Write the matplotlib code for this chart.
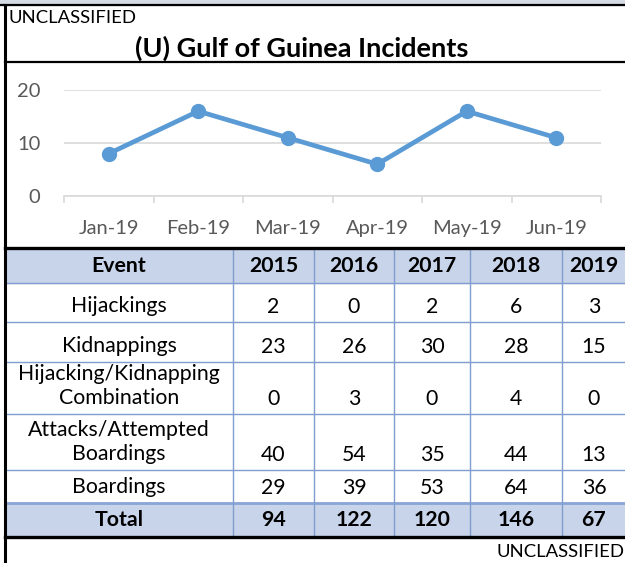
import matplotlib.pyplot as plt
from matplotlib.patches import Rectangle

plt.rcParams['font.family'] = ['Lato', 'DejaVu Sans']

# chart data
months = ["Jan-19", "Feb-19", "Mar-19", "Apr-19", "May-19", "Jun-19"]
monthly_incidents = [8, 16, 11, 6, 16, 11]

# table data
years = ["2015", "2016", "2017", "2018", "2019"]
events = ["Hijackings", "Kidnappings", "Hijacking/Kidnapping\nCombination",
          "Attacks/Attempted\nBoardings", "Boardings"]
hijackings = [2, 0, 2, 6, 3]
kidnappings = [23, 26, 30, 28, 15]
combination = [0, 3, 0, 4, 0]
attacks = [40, 54, 35, 44, 13]
boardings = [29, 39, 53, 64, 36]
totals = [94, 122, 120, 146, 67]

W, H = 625, 563
fig = plt.figure(figsize=(W / 100, H / 100), dpi=100, facecolor="white")

# page layer in pixel coordinates
base = fig.add_axes([0, 0, 1, 1])
base.set_xlim(0, W)
base.set_ylim(H, 0)
base.axis("off")

base.add_patch(Rectangle((0, 0), W, 5, color="#d5dbe4", zorder=1))
base.plot([0, W], [5, 5], color="black", lw=1.6, zorder=5)
base.plot([5, W], [62, 62], color="black", lw=1.6, zorder=5)
base.plot([5, 5], [5, H], color="black", lw=2.2, zorder=5)

base.text(8, 18, "UNCLASSIFIED", fontsize=13.3, va="center", ha="left")
base.text(302, 48, "(U) Gulf of Guinea Incidents", fontsize=19.5, fontweight="bold",
          va="center", ha="center")
base.text(W - 1, 552, "UNCLASSIFIED", fontsize=13.3, va="center", ha="right")

# table
col_edges = [5, 233, 314, 394, 470, 562, 640]
row_edges = [250, 283, 322, 362, 414, 470, 503, 536]
grid_blue = "#7f9dcf"
fill_blue = "#c8d4ea"

base.add_patch(Rectangle((5, row_edges[0]), W, row_edges[1] - row_edges[0],
                         color=fill_blue, zorder=1))
base.add_patch(Rectangle((5, row_edges[-2]), W, row_edges[-1] - row_edges[-2],
                         color=fill_blue, zorder=1))
for y in row_edges[1:-1]:
    base.plot([5, W], [y, y], color=grid_blue, lw=1.0, zorder=3)
base.plot([5, W], [row_edges[-2], row_edges[-2]], color="#8aa6d6", lw=2.0, zorder=3)
for x in col_edges[1:-1]:
    base.plot([x, x], [row_edges[0], row_edges[-1]], color=grid_blue, lw=1.0, zorder=3)
base.plot([5, W], [248, 248], color="black", lw=2.4, zorder=5)
base.plot([5, W], [537, 537], color="black", lw=2.4, zorder=5)

centers = [(col_edges[i] + col_edges[i + 1]) / 2 for i in range(len(col_edges) - 1)]
centers[-1] = 594
fs = 15.3

header = ["Event"] + years
hy = (row_edges[0] + row_edges[1]) / 2
for cx, label in zip(centers, header):
    base.text(cx, hy, label, fontsize=fs, fontweight="bold", ha="center", va="center")

rows = [hijackings, kidnappings, combination, attacks, boardings]
for i, (name, vals) in enumerate(zip(events, rows)):
    bottom = row_edges[i + 2]
    lines = name.split("\n")
    for k, line in enumerate(reversed(lines)):
        base.text(centers[0], bottom - 16 - 24 * k, line, fontsize=fs,
                  ha="center", va="center")
    for cx, v in zip(centers[1:], vals):
        base.text(cx, bottom - 15, str(v), fontsize=fs, ha="center", va="center")

ty = (row_edges[-2] + row_edges[-1]) / 2
base.text(centers[0], ty, "Total", fontsize=fs, fontweight="bold", ha="center", va="center")
for cx, v in zip(centers[1:], totals):
    base.text(cx, ty, str(v), fontsize=fs, fontweight="bold", ha="center", va="center")

# line chart
left, right, top, bot = 64, 601, 90, 196
ax = fig.add_axes([left / W, (H - bot) / H, (right - left) / W, (bot - top) / H])
ax.set_facecolor("none")
x = list(range(len(months)))
ax.plot(x, monthly_incidents, color="#5b9bd5", lw=3.4, marker="o", markersize=10,
        zorder=3, clip_on=False)
ax.set_xlim(-0.5, len(months) - 0.5)
ax.set_ylim(0, 20)
ax.set_yticks([0, 10, 20])
ax.grid(axis="y", color="#d9d9d9", lw=1.2)
for s in ["top", "right", "left"]:
    ax.spines[s].set_visible(False)
ax.spines["bottom"].set_color("#d9d9d9")
ax.spines["bottom"].set_linewidth(1.2)
ax.set_xticks(x)
ax.set_xticklabels(months)
ax.set_xticks([i - 0.5 for i in range(len(months) + 1)], minor=True)
ax.tick_params(axis="x", which="major", length=0, pad=17, labelsize=14.5,
               labelcolor="#595959")
ax.tick_params(axis="x", which="minor", length=5, color="#d9d9d9", width=1.2)
ax.tick_params(axis="y", length=0, pad=17, labelsize=14.5, labelcolor="#595959")

fig.savefig("out.png", dpi=100)
